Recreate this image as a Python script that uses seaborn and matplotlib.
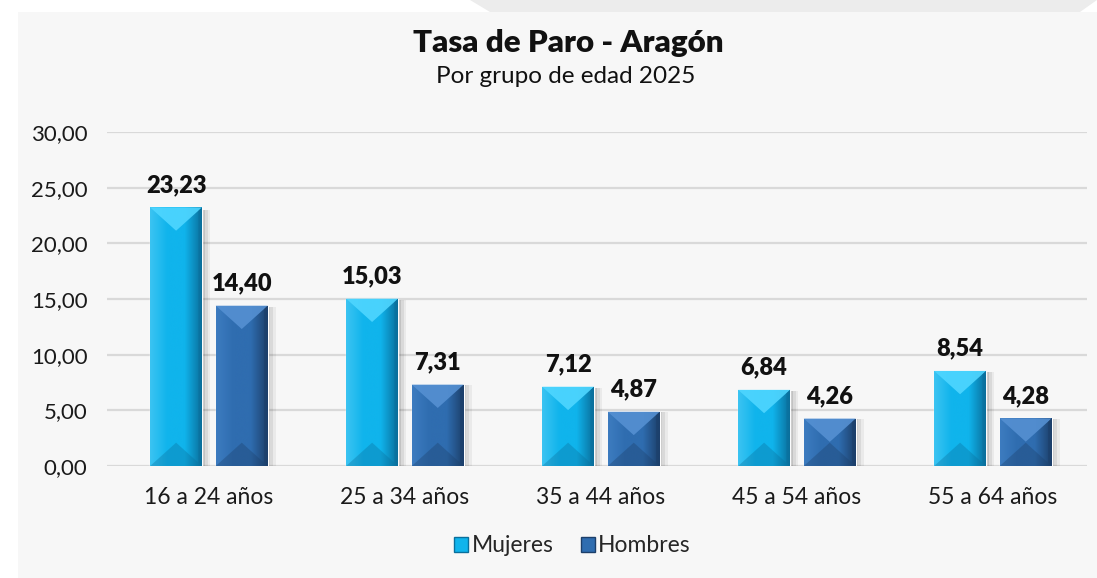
import numpy as np
import pandas as pd
import matplotlib
matplotlib.use("Agg")
import matplotlib.pyplot as plt
import seaborn as sns
from matplotlib.patches import Rectangle, Polygon, Patch
from matplotlib.colors import LinearSegmentedColormap

# ---- data ----
categorias = ["16 a 24 años", "25 a 34 años", "35 a 44 años", "45 a 54 años", "55 a 64 años"]
mujeres = [23.23, 15.03, 7.12, 6.84, 8.54]
hombres = [14.40, 7.31, 4.87, 4.26, 4.28]
series = ["Mujeres", "Hombres"]
y_ticks = [0, 5, 10, 15, 20, 25, 30]

df = pd.DataFrame({
    "grupo": categorias * 2,
    "tasa": mujeres + hombres,
    "sexo": [series[0]] * len(categorias) + [series[1]] * len(categorias),
})

base_cols = {"Mujeres": "#10b4ec", "Hombres": "#2f6db0"}
light_cols = {"Mujeres": "#4fd6ff", "Hombres": "#5590d2"}
dark_cols = {"Mujeres": "#0a6f9c", "Hombres": "#1c3f6a"}
edge_light = {"Mujeres": "#3cc4f2", "Hombres": "#3d7cc0"}

sns.set_theme(style="white")
plt.rcParams["font.family"] = ["Lato", "DejaVu Sans"]

fig = plt.figure(figsize=(10.97, 5.78), dpi=100)
fig.patch.set_facecolor("white")
# background panel
fig.add_artist(Rectangle((18 / 1097, 0), 1 - 18 / 1097, 1 - 12 / 578,
                         transform=fig.transFigure, facecolor="#f7f7f7",
                         edgecolor="none", zorder=-10))
fig.add_artist(Polygon([(470 / 1097, 1), (1, 1), (1080 / 1097, 1 - 12 / 578), (490 / 1097, 1 - 12 / 578)],
                       closed=True, transform=fig.transFigure, facecolor="#ececec",
                       edgecolor="none", zorder=-10))

ax = fig.add_axes([107 / 1097, 1 - 466 / 578, 980 / 1097, 334 / 578])
ax.set_facecolor("none")

sns.barplot(data=df, x="grupo", y="tasa", hue="sexo", hue_order=series,
            palette=base_cols, width=0.67, gap=0.21, ax=ax, legend=False,
            saturation=1, zorder=3)

ax.set_xlim(-0.52, len(categorias) - 0.52)
ax.set_ylim(0, 30)
ax.set_yticks(y_ticks)
ax.set_yticklabels([f"{v:.2f}".replace(".", ",") for v in y_ticks], fontsize=16, color="#1a1a1a")
ax.tick_params(axis="y", length=0, pad=14)
ax.tick_params(axis="x", length=0, pad=15, labelsize=16.5, labelcolor="#1a1a1a")
ax.set_xlabel("")
ax.set_ylabel("")
for s in ax.spines.values():
    s.set_visible(False)
ax.yaxis.grid(True, color="#d9d9d9", linewidth=1.6, zorder=0)
ax.set_axisbelow(True)

fig.canvas.draw()
inv = ax.transData.inverted()

bars = [p for p in ax.patches if isinstance(p, Rectangle)]
values = mujeres + hombres
names = [series[0]] * len(mujeres) + [series[1]] * len(hombres)
for p, v, nm in zip(bars, values, names):
    x, y0 = p.get_x(), p.get_y()
    w, h = p.get_width(), p.get_height()
    (px0, py0) = ax.transData.transform((x, y0))
    (px1, py1) = ax.transData.transform((x + w, y0 + h))
    wpx = px1 - px0
    d_px = min(wpx * 0.45, (py1 - py0) / 2)
    d = inv.transform((px0, py0 + d_px))[1] - inv.transform((px0, py0))[1]
    # soft shadow
    off_x = inv.transform((px0 + 4, py0))[0] - x
    for k, a in enumerate([0.10, 0.07, 0.05]):
        ax.add_patch(Rectangle((x + off_x * (k + 1) * 0.7, y0), w, h * 0.99,
                               facecolor="#000000", alpha=a, edgecolor="none", zorder=2,
                               clip_on=False))
    # horizontal gradient
    cmap = LinearSegmentedColormap.from_list(
        "g", [edge_light[nm], base_cols[nm], base_cols[nm], dark_cols[nm]], N=256)
    grad = np.linspace(0, 1, 256).reshape(1, -1)
    im = ax.imshow(grad, cmap=cmap, aspect="auto", extent=(x, x + w, y0, y0 + h),
                   zorder=3.5, interpolation="bicubic")
    im.set_clip_path(p)
    top = y0 + h
    ax.add_patch(Polygon([(x, top), (x + w, top), (x + w / 2, top - d)], closed=True,
                         facecolor=light_cols[nm], edgecolor="none", alpha=0.9, zorder=4))
    ax.add_patch(Polygon([(x, y0), (x + w, y0), (x + w / 2, y0 + d)], closed=True,
                         facecolor=dark_cols[nm], edgecolor="none", alpha=0.35, zorder=4))
    ax.add_patch(Polygon([(x + w, y0), (x + w, top), (x + w * 0.93, top - d * 0.15),
                          (x + w * 0.93, y0 + d * 0.15)], closed=True,
                         facecolor=dark_cols[nm], edgecolor="none", alpha=0.6, zorder=4))
    ax.annotate(f"{v:.2f}".replace(".", ","), (x + w / 2, top), xytext=(0, 8),
                textcoords="offset points", ha="center", va="bottom",
                fontsize=17, fontweight="heavy", color="#111111", zorder=5)
    p.set_zorder(3)

# titles
fig.text(0.518, 1 - 43 / 578, "Tasa de Paro - Aragón", ha="center", va="center",
         fontsize=22.5, fontweight="heavy", color="#111111")
fig.text(0.516, 1 - 77 / 578, "Por grupo de edad 2025", ha="center", va="center",
         fontsize=17.5, color="#111111")

handles = [Patch(facecolor=base_cols[s], edgecolor=dark_cols[s], linewidth=1) for s in series]
fig.legend(handles, series, loc="center", bbox_to_anchor=(0.522, 1 - 546 / 578), ncol=2,
           frameon=False, fontsize=16.5, handlelength=0.6, handleheight=0.6,
           handletextpad=0.15, columnspacing=1.2)

fig.savefig("out.png", dpi=100, facecolor=fig.get_facecolor())
